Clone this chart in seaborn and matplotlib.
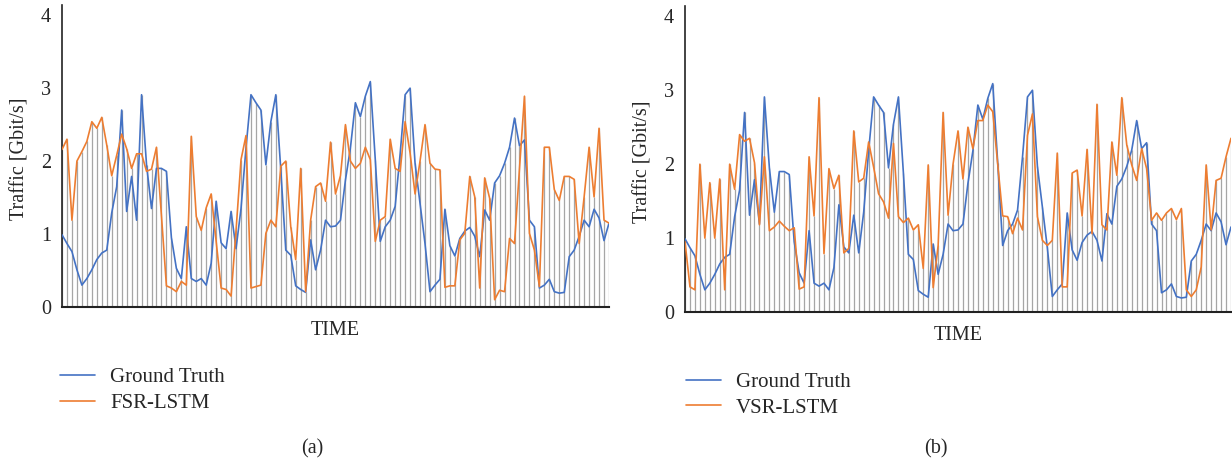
import numpy as np
import pandas as pd
import matplotlib
matplotlib.use("Agg")
import matplotlib.pyplot as plt
import seaborn as sns

# ground truth traffic (same series in both panels)
ground_truth = [
    0.99, 0.87, 0.76, 0.51, 0.30, 0.39, 0.51, 0.65, 0.74, 0.78,
    1.29, 1.65, 2.70, 1.31, 1.79, 1.19, 2.91, 1.95, 1.35, 1.90,
    1.90, 1.86, 0.95, 0.53, 0.39, 1.10, 0.39, 0.35, 0.39, 0.30,
    0.60, 1.45, 0.88, 0.80, 1.31, 0.80, 1.35, 2.18, 2.91, 2.80,
    2.70, 1.95, 2.54, 2.91, 1.88, 0.78, 0.71, 0.29, 0.24, 0.20,
    0.92, 0.51, 0.78, 1.19, 1.10, 1.11, 1.19, 1.74, 2.18, 2.80,
    2.61, 2.89, 3.09, 2.02, 0.90, 1.10, 1.19, 1.38, 2.10, 2.91,
    3.00, 1.97, 1.42, 0.87, 0.21, 0.30, 0.38, 1.34, 0.84, 0.70,
    0.94, 1.04, 1.09, 0.97, 0.69, 1.33, 1.19, 1.70, 1.80, 1.97,
    2.19, 2.59, 2.21, 2.29, 1.19, 1.10, 0.26, 0.30, 0.38, 0.21,
    0.19, 0.20, 0.69, 0.78, 0.97, 1.19, 1.10, 1.34, 1.22, 0.91,
    1.15,
]

# FSR-LSTM prediction, panel (a)
fsr_lstm = [
    2.16, 2.30, 1.19, 2.00, 2.13, 2.27, 2.54, 2.45, 2.60, 2.22,
    1.80, 2.08, 2.37, 2.17, 1.90, 2.10, 2.10, 1.86, 1.89, 2.19,
    1.25, 0.29, 0.26, 0.21, 0.35, 0.30, 2.34, 1.24, 1.05, 1.36,
    1.55, 0.90, 0.26, 0.24, 0.15, 1.05, 2.02, 2.35, 0.26, 0.28,
    0.30, 1.01, 1.19, 1.10, 1.93, 2.00, 1.10, 0.65, 1.90, 0.21,
    1.19, 1.65, 1.70, 1.45, 2.26, 1.55, 1.80, 2.50, 2.00, 1.90,
    1.97, 2.19, 2.02, 0.90, 1.19, 1.24, 2.30, 1.90, 1.86, 2.54,
    2.11, 1.55, 2.00, 2.50, 1.97, 1.89, 1.88, 0.27, 0.29, 0.29,
    0.92, 1.01, 1.79, 1.51, 0.26, 1.77, 1.49, 0.10, 0.23, 0.21,
    0.94, 0.87, 1.90, 2.89, 1.01, 0.78, 0.28, 2.19, 2.19, 1.61,
    1.46, 1.79, 1.79, 1.75, 0.87, 1.51, 2.19, 1.51, 2.45, 1.19,
    1.15,
]

# VSR-LSTM prediction, panel (b)
vsr_lstm = [
    0.95, 0.34, 0.30, 2.00, 1.00, 1.75, 1.00, 1.80, 0.30, 2.00,
    1.66, 2.40, 2.31, 2.35, 2.02, 1.18, 2.10, 1.10, 1.15, 1.23,
    1.16, 1.10, 1.14, 0.31, 0.34, 2.10, 1.30, 2.90, 0.79, 1.94,
    1.67, 1.85, 0.80, 0.86, 2.45, 1.76, 1.81, 2.30, 1.96, 1.60,
    1.49, 1.27, 2.28, 1.29, 1.21, 1.27, 1.11, 1.18, 0.59, 1.99,
    0.33, 0.90, 2.70, 1.31, 2.00, 2.45, 1.80, 2.50, 2.21, 2.59,
    2.59, 2.80, 2.71, 2.00, 1.30, 1.29, 1.06, 1.27, 1.11, 2.39,
    2.68, 1.29, 0.97, 0.90, 0.97, 2.15, 0.34, 0.34, 1.88, 1.92,
    1.30, 2.20, 1.06, 2.81, 1.18, 1.11, 2.30, 1.85, 2.90, 2.26,
    1.99, 1.78, 2.21, 1.94, 1.24, 1.34, 1.24, 1.34, 1.40, 1.25,
    1.40, 0.30, 0.21, 0.30, 0.61, 1.99, 1.11, 1.78, 1.81, 2.10,
    2.35,
]

y_ticks = [0, 1, 2, 3, 4]
BLUE = "#4472C4"
ORANGE = "#ED7D31"
GRAY = "#a6a6a6"
FS = 14.5

sns.set_style("white")
plt.rcParams["font.family"] = ["Liberation Serif", "DejaVu Serif"]

fig = plt.figure(figsize=(12.32, 4.62), dpi=100)
W, H = 1232, 462


def make_axes(left, right, bottom, top):
    return fig.add_axes([left / W, 1 - bottom / H, (right - left) / W, (bottom - top) / H])


def draw_panel(ax, pred, pred_name, panel_tag, legend_xy, tag_xy):
    t = np.arange(len(ground_truth))
    df = pd.DataFrame({"time": t, "Ground Truth": ground_truth, pred_name: pred})
    # drop lines down to the axis from the higher of the two series
    ax.vlines(df["time"], 0, df[["Ground Truth", pred_name]].max(axis=1),
              color=GRAY, lw=0.9, zorder=1)
    long = df.melt(id_vars="time", var_name="series", value_name="traffic")
    sns.lineplot(data=long, x="time", y="traffic", hue="series",
                 palette={"Ground Truth": BLUE, pred_name: ORANGE},
                 lw=1.2, ax=ax, zorder=3)
    ax.set_xlim(0, len(t) - 1)
    ax.set_ylim(0, 4.14)
    ax.set_yticks(y_ticks)
    ax.set_xticks([])
    ax.tick_params(axis="y", length=0, pad=8, labelsize=FS)
    ax.set_xlabel("TIME", fontsize=FS, labelpad=10)
    ax.set_ylabel("Traffic [Gbit/s]", fontsize=FS)
    ax.yaxis.set_label_coords(-0.059, 0.49)
    for s in ["top", "right"]:
        ax.spines[s].set_visible(False)
    ax.spines["left"].set_color("#222222")
    ax.spines["bottom"].set_color("#222222")
    ax.spines["left"].set_linewidth(1.2)
    ax.spines["bottom"].set_linewidth(1.5)
    handles, labels = ax.get_legend_handles_labels()
    ax.legend(handles, labels, loc="center left",
              bbox_to_anchor=(legend_xy[0] / W, 1 - legend_xy[1] / H),
              bbox_transform=fig.transFigure, frameon=False, fontsize=15,
              handlelength=1.7, handletextpad=0.7, labelspacing=0.3,
              borderpad=0, borderaxespad=0)
    fig.text(tag_xy[0] / W, 1 - tag_xy[1] / H, panel_tag, ha="center", va="center", fontsize=FS)


ax_a = make_axes(62, 609, 307, 5)
draw_panel(ax_a, fsr_lstm, "FSR-LSTM", "(a)", (60, 390.5), (312, 449))

ax_b = make_axes(685, 1231, 312, 6)
draw_panel(ax_b, vsr_lstm, "VSR-LSTM", "(b)", (686, 395), (936, 449))

fig.savefig("out.png", dpi=100)
